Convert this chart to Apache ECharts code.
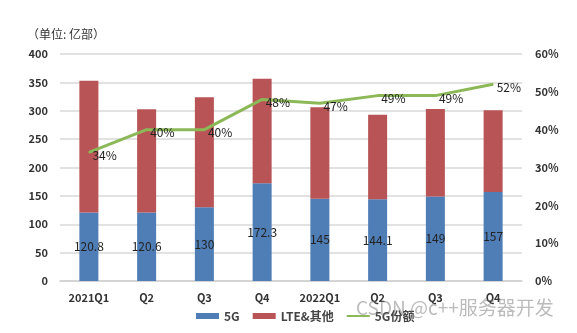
<!DOCTYPE html>
<html><head><meta charset="utf-8">
<script src="https://cdn.jsdelivr.net/npm/echarts@6/dist/echarts.min.js"></script>
<style>html,body{margin:0;padding:0;background:#fff}#c{width:577px;height:333px}</style>
</head><body><div id="c"></div>
<script>
const categories = ['2021Q1','Q2','Q3','Q4','2022Q1','Q2','Q3','Q4'];
const fiveG = [120.8, 120.6, 130, 172.3, 145, 144.1, 149, 157];
const lteOther = [232, 182, 194, 184, 161, 149, 154, 144];
const share5G = [34, 40, 40, 48, 47, 49, 49, 52];
const leftTicks = [0, 400, 50];
const rightTicks = [0, 60, 10];

const chart = echarts.init(document.getElementById('c'), null, {renderer:'canvas'});
const font = '"Noto Sans CJK SC", "Open Sans", sans-serif';
chart.setOption({
  animation: false,
  textStyle: {fontFamily: font},
  grid: {left: 60, right: 55, top: 54, bottom: 52},
  graphic: [
    {type:'text', left: 27, top: 28, style:{text:'（单位: 亿部）', font:'12px ' + font, fill:'#333'}},
    {type:'text', left: 356, top: 298, z: 100, style:{text:'CSDN @c++服务器开发', font:'19px ' + font, fill:'rgba(120,120,120,0.5)'}}
  ],
  legend: {
    bottom: 6, left: 191, itemWidth: 23, itemHeight: 6, itemGap: 13,
    textStyle: {fontSize: 12, fontWeight: 'bold', color: '#444'},
    data: [
      {name:'5G', icon:'rect'},
      {name:'LTE&其他', icon:'rect'},
      {name:'5G份额', icon:'path://M0,0 L23,0 L23,2 L0,2 Z'}
    ]
  },
  xAxis: {
    type: 'category', data: categories,
    axisLine: {lineStyle: {color: '#d0d0d0', width: 1.5}},
    axisTick: {show: false},
    axisLabel: {fontSize: 11, fontWeight: 'bold', color: '#333', margin: 11}
  },
  yAxis: [
    {type:'value', min: leftTicks[0], max: leftTicks[1], interval: leftTicks[2],
     axisLine:{show:false}, axisTick:{show:false},
     axisLabel:{fontSize: 11, fontWeight:'bold', color:'#333', margin: 12},
     splitLine:{lineStyle:{color:'#d9d9d9', width:1.5}}},
    {type:'value', min: rightTicks[0], max: rightTicks[1], interval: rightTicks[2],
     axisLine:{show:false}, axisTick:{show:false},
     axisLabel:{fontSize: 11, fontWeight:'bold', color:'#333', margin: 13, formatter:'{value}%'},
     splitLine:{show:false}}
  ],
  series: [
    {name:'5G', type:'bar', stack:'s', data: fiveG, barWidth: 19,
     itemStyle:{color:'#4f7db5'},
     label:{show:true, position:'inside', color:'#222', fontSize: 12}},
    {name:'LTE&其他', type:'bar', stack:'s', data: lteOther, barWidth: 19,
     itemStyle:{color:'#b85356'}},
    {name:'5G份额', type:'line', yAxisIndex: 1, data: share5G, symbol:'circle', symbolSize: 1,
     lineStyle:{color:'#8cb858', width: 3}, itemStyle:{color:'#8cb858'},
     label:{show:true, position:'right', distance: 3, offset:[0,3], color:'#222', fontSize: 12, formatter:'{c}%'}}
  ]
});
</script></body></html>
